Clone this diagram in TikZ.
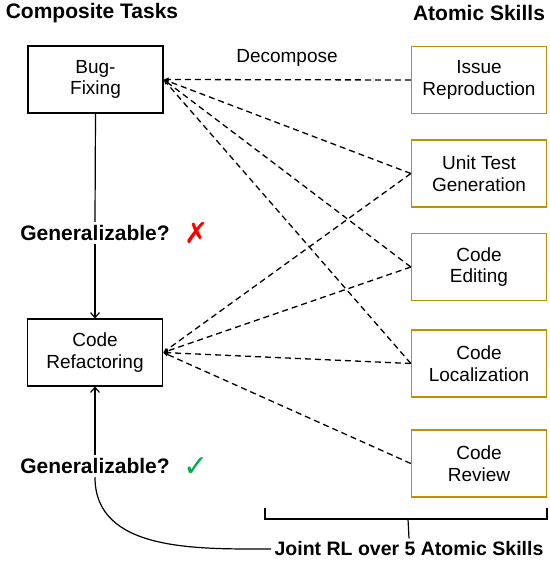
\documentclass[tikz,border=0pt]{standalone}
\usepackage{fontspec}
\setmainfont{Liberation Sans}
\newfontfamily\marksfont{DejaVu Sans}
\usetikzlibrary{arrows.meta}
\definecolor{skillgold}{HTML}{BF9000}
\definecolor{crossred}{HTML}{FF0000}
\definecolor{checkgreen}{HTML}{00B050}
\tikzset{
	taskbox/.style={draw=black, line width=1.1pt, minimum width=135pt, minimum height=67pt, align=center, font=\fontsize{19}{21.5}\selectfont},
	skillbox/.style={taskbox, draw=skillgold, line width=1.3pt},
	headline/.style={font=\fontsize{21}{24}\selectfont\bfseries},
	decomp/.style={line width=1.3pt, dash pattern=on 6pt off 4pt, -{Latex[length=5pt, width=4.5pt]}},
	flow/.style={line width=1.2pt, -{Straight Barb[length=5pt, width=9pt]}}
}
\begin{document}
\begin{tikzpicture}[x=1pt, y=-1pt]
			\useasboundingbox (0, 0) rectangle (549, 562);

			\node[headline]		(comp)	at (92, 13)		{Composite Tasks};
			\node[headline]		(atom)	at (479, 13)	{Atomic Skills};

			\node[taskbox]		(bf)	at (95.5, 79.5)		{Bug-\\Fixing};
			\node[taskbox]		(cr)	at (95, 352.5)		{Code\\Refactoring};

			\node[skillbox]		(ir)	at (479, 80)		{Issue\\Reproduction};
			\node[skillbox]		(ut)	at (479, 173.5)		{Unit Test\\Generation};
			\node[skillbox]		(ce)	at (479, 267)		{Code\\Editing};
			\node[skillbox]		(cl)	at (479, 363.5)		{Code\\Localization};
			\node[skillbox]		(rv)	at (479, 463.5)		{Code\\Review};

			\node[font=\fontsize{19}{21}\selectfont]	(dec)	at (287, 58)	{Decompose};

			\draw[decomp]	(ir.west) to (bf.east);
			\draw[decomp]	(ut.west) to (bf.east);
			\draw[decomp]	(ce.west) to (bf.east);
			\draw[decomp]	(cl.west) to (bf.east);

			\draw[decomp]	(ut.west) to (cr.east);
			\draw[decomp]	(ce.west) to (cr.east);
			\draw[decomp]	(cl.west) to (cr.east);
			\draw[decomp]	(rv.west) to (cr.east);

			\node[headline]	(gen1)	at (95, 233)	{Generalizable?};
			\node[font=\fontsize{29}{29}\selectfont\marksfont, text=crossred]	(cross)	at (197, 233)	{✗};
			\node[headline]	(gen2)	at (95, 466)	{Generalizable?};
			\node[font=\fontsize{30}{30}\selectfont\marksfont, text=checkgreen]	(check)	at (196, 467)	{✓};

			\draw[line width=1.2pt]	(bf.south) to (gen1.north);
			\draw[flow]				(gen1.south) to (cr.north);
			\draw[flow]				(gen2.north) to (cr.south);

			\node[headline, font=\fontsize{19.5}{22}\selectfont\bfseries]	(joint)	at (409, 549)	{Joint RL over 5 Atomic Skills};
			\draw[line width=1.2pt]	(joint.west) to[out=180, in=-90] (gen2.south);

			\draw[line width=1.2pt]	(265, 508) -- (265, 519) -- (547, 519) -- (547, 508);
			\draw[line width=1.2pt]	(408, 519) -- (joint.north);
		\end{tikzpicture}
\end{document}
